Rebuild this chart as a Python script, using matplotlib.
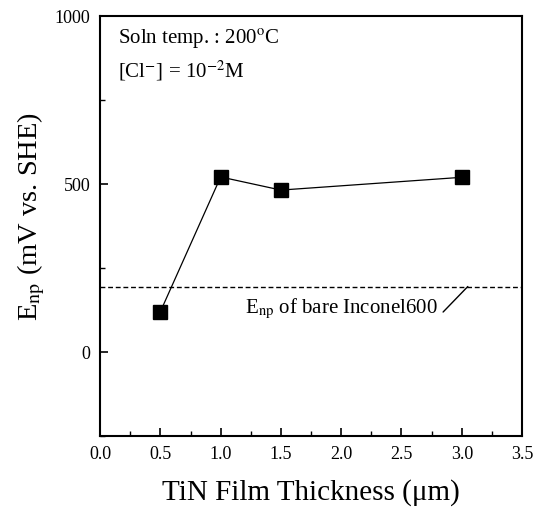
import matplotlib
matplotlib.use('Agg')
import matplotlib.pyplot as plt
from matplotlib.ticker import MultipleLocator

# Du lieu doc tu hinh
thickness = [0.5, 1.0, 1.5, 3.0]
e_np = [120, 521, 482, 520]
e_np_bare = 195

x_ticks = [0.0, 0.5, 1.0, 1.5, 2.0, 2.5, 3.0, 3.5]
y_ticks = [0, 500, 1000]

plt.rcParams['font.family'] = ['Liberation Serif', 'DejaVu Serif']
plt.rcParams['mathtext.fontset'] = 'stix'

fig = plt.figure(figsize=(5.41, 5.12), dpi=100)
ax = fig.add_axes([0.185, 0.1484, 0.780, 0.8203])

ax.plot(thickness, e_np, color='black', lw=0.9, marker='s', markersize=10.5,
        markerfacecolor='black', markeredgecolor='black')
ax.axhline(e_np_bare, color='black', lw=1.0, ls=(0, (3.5, 2)))

ax.set_xlim(0, 3.5)
ax.set_ylim(-250, 1000)
ax.set_xticks(x_ticks)
ax.set_xticklabels(['%.1f' % v for v in x_ticks])
ax.set_yticks(y_ticks)
ax.xaxis.set_minor_locator(MultipleLocator(0.25))
ax.yaxis.set_minor_locator(MultipleLocator(250))
ax.tick_params(which='both', direction='in', top=False, right=False, labelsize=13)
ax.tick_params(which='major', length=6, width=1.2, pad=7)
ax.tick_params(which='minor', length=3.5, width=1.0)
for s in ax.spines.values():
    s.set_linewidth(1.5)

ax.set_xlabel('TiN Film Thickness (\u03bcm)', fontsize=21, labelpad=12)
ax.set_ylabel(r'E$_{\rm np}$ (mV vs. SHE)', fontsize=20.5)
ax.yaxis.set_label_coords(-0.125, 0.522)

ax.text(0.15, 930, 'Soln temp. : 200$^{\\rm o}$C', fontsize=15, va='center')
ax.text(0.15, 837, '[Cl$^{-}$] = 10$^{-2}$M', fontsize=15, va='center')

# chu thich cho duong ngang
ax.text(2.80, 128, r'E$_{\rm np}$ of bare Inconel600', fontsize=15,
        ha='right', va='center')
ax.annotate('', xy=(3.05, e_np_bare), xytext=(2.845, 119),
            arrowprops=dict(arrowstyle='-', color='black', lw=1.0,
                            shrinkA=0, shrinkB=0))

fig.savefig('out.png', dpi=100)
